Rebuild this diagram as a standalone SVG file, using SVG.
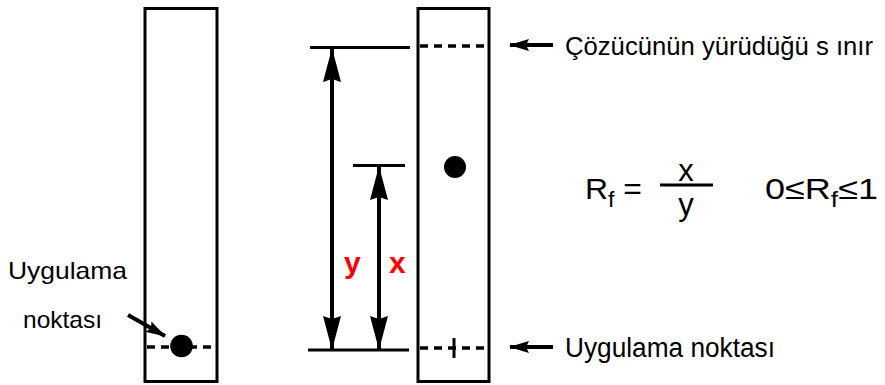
<svg xmlns="http://www.w3.org/2000/svg" width="885" height="385" viewBox="0 0 885 385">
<defs>
<style>
.plate{fill:none;stroke:#000;stroke-width:3}
.dash{stroke:#000;stroke-width:3.5;stroke-dasharray:8 6;fill:none}
.ln{stroke:#000;stroke-width:3;fill:none}
.shaft{stroke:#000;stroke-width:4;fill:none}
.thin{stroke:#000;stroke-width:3;fill:none}
.t{font-family:"Liberation Sans",Arial,sans-serif;fill:#000}
.red{font-family:"Liberation Sans",Arial,sans-serif;font-weight:bold;fill:#ff0000;font-size:30px}
</style>
<marker id="big" viewBox="0 0 34 18" refX="33" refY="9" markerWidth="34" markerHeight="18" markerUnits="userSpaceOnUse" orient="auto-start-reverse">
<path d="M0,0 L34,9 L0,18 L3,9 Z" fill="#000"/>
</marker>
<marker id="small" viewBox="0 0 20 12" refX="19" refY="6" markerWidth="20" markerHeight="12" markerUnits="userSpaceOnUse" orient="auto">
<path d="M0,0 L20,6 L0,12 L3,6 Z" fill="#000"/>
</marker>
</defs>

<g id="plate-left">
<rect class="plate" x="145" y="8.5" width="72" height="373"/>
<line class="dash" x1="147" y1="347" x2="216" y2="347"/>
<circle cx="181.5" cy="346" r="11.3" fill="#000"/>
</g>

<g id="plate-right">
<rect class="plate" x="418" y="8.5" width="71" height="373"/>
<line class="dash" x1="420" y1="46" x2="488" y2="46"/>
<line class="dash" x1="420" y1="348" x2="488" y2="348"/>
<line class="ln" x1="454" y1="338" x2="454" y2="358"/>
<circle cx="455" cy="167" r="11" fill="#000"/>
</g>

<g id="label-left">
<text class="t" x="8" y="279" font-size="24" textLength="119" lengthAdjust="spacingAndGlyphs">Uygulama</text>
<text class="t" x="23" y="328" font-size="24" textLength="79" lengthAdjust="spacingAndGlyphs">noktası</text>
</g>

<g id="label-front">
<text class="t" x="565" y="55" font-size="26" textLength="308" lengthAdjust="spacingAndGlyphs">Çözücünün yürüdüğü s ınır</text>
</g>

<g id="label-origin">
<text class="t" x="565" y="357" font-size="27" textLength="210" lengthAdjust="spacingAndGlyphs">Uygulama noktası</text>
</g>

<g id="formula">
<text class="t" x="585" y="199" font-size="30" textLength="57" lengthAdjust="spacingAndGlyphs">R<tspan font-size="22" dy="8">f</tspan><tspan dy="-8"> =</tspan></text>
<line class="thin" x1="660" y1="185" x2="713" y2="185"/>
<text class="t" x="686" y="181" font-size="31" text-anchor="middle">x</text>
<text class="t" x="686" y="215" font-size="31" text-anchor="middle">y</text>
<text class="t" x="765" y="199" font-size="30" textLength="113" lengthAdjust="spacingAndGlyphs">0≤R<tspan font-size="22" dy="8">f</tspan><tspan dy="-8">≤1</tspan></text>
</g>

<g id="labels-xy">
<text class="red" x="344" y="273">y</text>
<text class="red" x="389" y="273">x</text>
</g>

<g id="connectors">
<line class="ln" x1="310" y1="47.5" x2="410" y2="47.5"/>
<line class="ln" x1="308" y1="350" x2="409" y2="350"/>
<line class="ln" x1="353" y1="165.5" x2="405" y2="165.5"/>
<line class="shaft" x1="332" y1="49" x2="332" y2="349" marker-start="url(#big)" marker-end="url(#big)"/>
<line class="shaft" x1="379" y1="167" x2="379" y2="349" marker-start="url(#big)" marker-end="url(#big)"/>
<line class="shaft" x1="553" y1="45" x2="510" y2="45" marker-end="url(#small)"/>
<line class="shaft" x1="553" y1="347" x2="510" y2="347" marker-end="url(#small)"/>
<line class="shaft" x1="128" y1="315" x2="165" y2="336" marker-end="url(#small)"/>
</g>
</svg>
